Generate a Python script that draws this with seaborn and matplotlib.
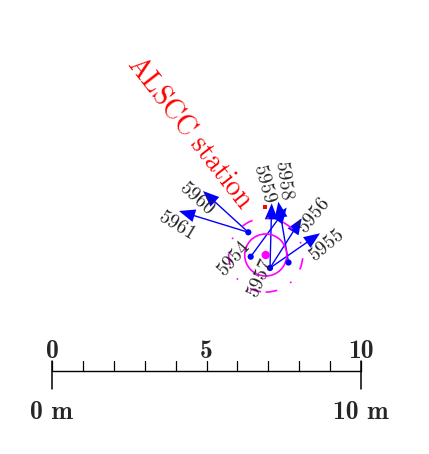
import matplotlib
matplotlib.use("Agg")
import matplotlib.pyplot as plt
import seaborn as sns
from matplotlib.patches import Circle

# displacement vectors, tail -> head, in metres
tail_x = [6.353, 6.353, 6.430, 7.055, 7.654, 7.055, 7.055]
tail_y = [4.489, 4.489, 3.699, 3.333, 3.511, 3.333, 3.333]
head_x = [4.887, 4.110, 7.595, 7.110, 7.324, 8.081, 8.673]
head_y = [5.825, 5.178, 5.291, 5.427, 5.479, 4.942, 4.456]

# survey points (blue dots)
point_x = [6.353, 6.430, 7.055, 7.654]
point_y = [4.489, 3.699, 3.333, 3.511]

# point labels
label_names = ["5960", "5961", "5959", "5958", "5956", "5955", "5954", "5957"]

# mean position and its circles
mean_x, mean_y = 6.916, 3.754
radius_inner = 0.68
radius_outer = 1.20

# ALSCC station
station_x, station_y = 6.893, 5.317
station_name = "ALSCC station"

# scale bar
scale_ticks = list(range(0, 11))
scale_labels = [0, 5, 10]
scale_ends = [0, 10]

# label layout (x, y, rotation)
label_layout = {
    "5960": (4.683, 5.589, -42),
    "5961": (4.035, 4.725, -31),
    "5959": (6.893, 6.074, -74),
    "5958": (7.508, 6.181, -82),
    "5956": (8.457, 5.016, 51),
    "5955": (8.890, 4.078, 40),
    "5954": (5.890, 3.625, 49),
    "5957": (6.754, 3.000, 66),
}

sns.set_style("white")
plt.rcParams["mathtext.fontset"] = "cm"

px_per_m = 30.9
fig = plt.figure(figsize=(4.29, 4.54), dpi=100)
ax = fig.add_axes([0, 0, 1, 1])
ax.set_xlim(-52 / px_per_m, 377 / px_per_m)
ax.set_ylim(-83 / px_per_m, 371 / px_per_m)
ax.axis("off")

# arrows
for x0, y0, x1, y1 in zip(tail_x, tail_y, head_x, head_y):
    ax.arrow(x0, y0, x1 - x0, y1 - y0, width=0.045, head_width=0.42,
             head_length=0.52, length_includes_head=True,
             color="blue", lw=0, zorder=2)

# circles around the mean
ax.add_patch(Circle((mean_x, mean_y), radius_inner, fill=False,
                    ec="magenta", lw=1.2, zorder=3))
ax.add_patch(Circle((mean_x, mean_y), radius_outer, fill=False,
                    ec="magenta", lw=1.2, linestyle=(0, (7, 9, 1, 9)),
                    zorder=3))

sns.scatterplot(x=[mean_x], y=[mean_y], color="magenta", s=36,
                edgecolor="none", ax=ax, zorder=4)
sns.scatterplot(x=point_x, y=point_y, color="blue", s=20,
                edgecolor="none", ax=ax, zorder=5)
sns.scatterplot(x=[station_x], y=[station_y], color="red", s=10, marker="s",
                edgecolor="none", ax=ax, zorder=5)

ax.text(4.50, 7.74, r"$\mathrm{ALSCC\ station}$", color="red",
        fontsize=20, rotation=-52, ha="center", va="center",
        rotation_mode="anchor")

for name in label_names:
    lx, ly, rot = label_layout[name]
    ax.text(lx, ly, r"$\mathrm{%s}$" % name, fontsize=14, rotation=rot,
            ha="center", va="center", rotation_mode="anchor", zorder=6)

# scale bar
ax.plot([scale_ticks[0], scale_ticks[-1]], [0, 0], color="black", lw=1)
for t in scale_ticks:
    ax.plot([t, t], [0, 0.324], color="black", lw=0.9)
for t in scale_ends:
    ax.plot([t, t], [0.324, -0.592], color="black", lw=1.1)
for t in scale_labels:
    ax.text(t, 0.42, str(t), fontsize=18.5, ha="center", va="baseline",
            family="cmb10")
for t in scale_ends:
    ax.text(t, -1.553, f"{t} m", fontsize=18.5, ha="center",
            va="baseline", family=["cmb10", "DejaVu Serif"])

plt.savefig("out.png", dpi=100)
